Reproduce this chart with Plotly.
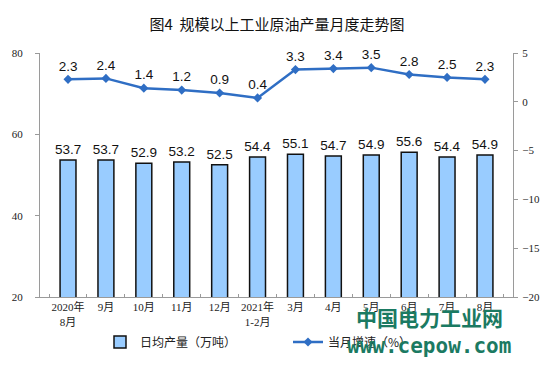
import plotly.graph_objects as go

categories = ["2020年<br>8月", "9月", "10月", "11月", "12月", "2021年<br>1-2月",
              "3月", "4月", "5月", "6月", "7月", "8月"]
daily_output = [53.7, 53.7, 52.9, 53.2, 52.5, 54.4, 55.1, 54.7, 54.9, 55.6, 54.4, 54.9]
monthly_growth = [2.3, 2.4, 1.4, 1.2, 0.9, 0.4, 3.3, 3.4, 3.5, 2.8, 2.5, 2.3]

label_font = dict(family="Liberation Sans, Arial, sans-serif", size=13.5, color="#111111")
tick_font = dict(family="Liberation Serif, Noto Sans CJK SC, serif", size=11, color="#222222")
legend_font = dict(family="Noto Sans CJK SC, sans-serif", size=12, color="#222222")

fig = go.Figure()
fig.add_trace(go.Bar(
    x=categories, y=daily_output, name="日均产量（万吨）", legend="legend",
    marker=dict(color="#99CCFF", line=dict(color="#111111", width=1.5)),
    width=0.42,
    text=[f"{v:.1f}" for v in daily_output], textposition="outside",
    constraintext="none",
    textfont=label_font, cliponaxis=False,
))
fig.add_trace(go.Scatter(
    x=categories, y=monthly_growth, name="当月增速（%）", yaxis="y2", legend="legend2",
    mode="lines+markers+text",
    line=dict(color="#2F6EC4", width=2.5),
    marker=dict(symbol="diamond", size=7, color="#2F6EC4"),
    text=[f"{v:.1f}" for v in monthly_growth], textposition="top center",
    textfont=label_font, cliponaxis=False,
))

fig.update_layout(
    width=554, height=374, autosize=False,
    margin=dict(l=40, r=41, t=53, b=77),
    paper_bgcolor="white", plot_bgcolor="white",
    title=dict(text="图4  规模以上工业原油产量月度走势图", x=0.5, xanchor="center",
               y=0.935, yanchor="middle",
               font=dict(family="Noto Sans CJK SC, sans-serif", size=15, color="#111111")),
    xaxis=dict(type="category", showline=True, linecolor="#9a9a9a", linewidth=1,
               ticks="inside", tickson="boundaries", ticklen=3, tickcolor="#9a9a9a",
               tickangle=0, tickfont=tick_font, showgrid=False, automargin=False),
    yaxis=dict(range=[20, 80], dtick=20, showline=True, linecolor="#9a9a9a",
               ticks="outside", ticklen=4, tickcolor="#9a9a9a", showgrid=False,
               zeroline=False, tickfont=tick_font, automargin=False,
               ticklabelstandoff=10),
    yaxis2=dict(range=[-20, 5], dtick=5, overlaying="y", side="right", showline=True,
                linecolor="#9a9a9a", ticks="outside", ticklen=4, tickcolor="#9a9a9a",
                showgrid=False, zeroline=False, tickfont=tick_font, automargin=False,
                ticklabelstandoff=2),
    legend=dict(orientation="h", xref="container", yref="container",
                x=100 / 554, xanchor="left", y=1 - 342 / 374, yanchor="middle",
                itemwidth=30, font=legend_font, bgcolor="rgba(0,0,0,0)"),
    legend2=dict(orientation="h", xref="container", yref="container",
                 x=288 / 554, xanchor="left", y=1 - 342 / 374, yanchor="middle",
                 itemwidth=30, font=legend_font, bgcolor="rgba(0,0,0,0)"),
    showlegend=True,
)

fig.add_annotation(text="<b>中国电力工业网</b>", xref="paper", yref="paper",
                   x=(429 - 40) / 473, y=-(317 - 297) / 244, xanchor="center", yanchor="middle",
                   showarrow=False,
                   font=dict(family="Noto Sans CJK SC, sans-serif", size=21, color="#1B7A62"))
fig.add_annotation(text="<b>www.cepow.com</b>", xref="paper", yref="paper",
                   x=(429 - 40) / 473, y=-(346 - 297) / 244, xanchor="center", yanchor="middle",
                   showarrow=False,
                   font=dict(family="DejaVu Sans Mono, monospace", size=21, color="#1B7A62"))

fig.write_html("out.html", config={"displayModeBar": False},
               post_script="document.body.style.margin='0';")
